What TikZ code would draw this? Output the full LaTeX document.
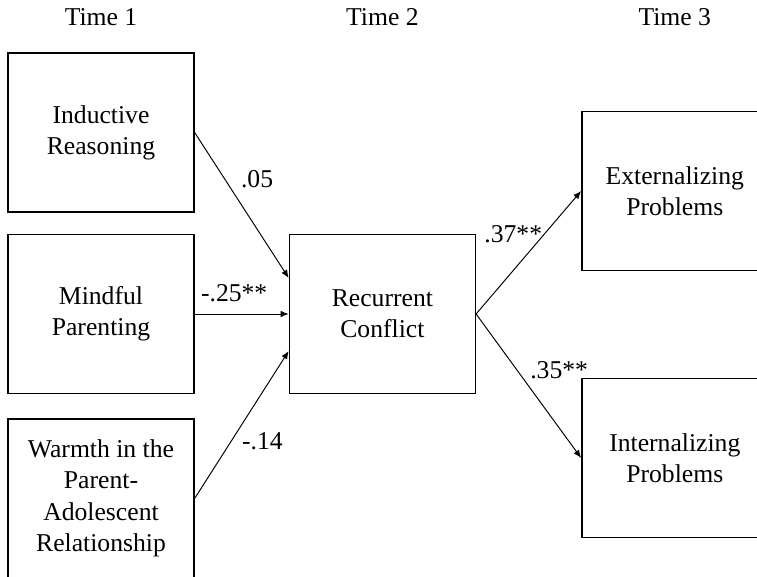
\documentclass[tikz,border=0pt]{standalone}
\usepackage{fontspec}
\setmainfont{Liberation Serif}
\usetikzlibrary{arrows.meta, positioning, calc}

\begin{document}
\begin{tikzpicture}[
    node distance=0.45cm and 1.88cm,
    var/.style={draw, rectangle, line width=0.8pt, minimum width=3.72cm, minimum height=3.18cm, align=center, inner sep=0pt, font=\fontsize{14.6}{17.8}\selectfont},
    timelabel/.style={anchor=base, font=\fontsize{14.6}{17.8}\selectfont},
    coef/.style={inner sep=1pt, font=\fontsize{14.6}{17.8}\selectfont},
    arr/.style={draw, -{Latex[length=1.6mm, width=1.3mm]}, line width=0.55pt}
]
    \useasboundingbox (0,0) rectangle (15.14,11.54);
    \clip (0,0) rectangle (15.14,11.54);

    \node[var] (mind) at (2.02,5.26) {Mindful\\Parenting};
    \node[var, above=0.42cm of mind] (ind) {Inductive\\Reasoning};
    \node[var, below=0.48cm of mind] (warm) {Warmth in the\\Parent-\\Adolescent\\Relationship};
    \node[var, right=1.88cm of mind] (rc) {Recurrent\\Conflict};
    \node[var, right=2.1cm of rc, yshift=2.46cm] (ext) {Externalizing\\Problems};
    \node[var, right=2.1cm of rc, yshift=-2.88cm] (int) {Internalizing\\Problems};

    % time points over the columns
    \node[timelabel] (t1) at ($(ind.north)+(0,0.54)$) {Time 1};
    \node[timelabel] (t2) at (rc.north |- t1.base) {Time 2};
    \node[timelabel] (t3) at (ext.north |- t1.base) {Time 3};

    \draw[arr] (ind.east) -- ($(rc.west)+(0,0.72)$) node[coef, pos=0.32, anchor=west, xshift=0.28cm] {.05};
    \draw[arr] (mind.east) -- (rc.west) node[coef, pos=0.42, anchor=south, yshift=0.2cm] {-.25**};
    \draw[arr] (warm.east) -- ($(rc.west)+(0,-0.74)$) node[coef, pos=0.39, anchor=west, xshift=0.17cm] {-.14};

    \draw[arr] (rc.east) -- (ext.west) node[coef, pos=0.65, anchor=east] {.37**};
    \draw[arr] (rc.east) -- (int.west) node[coef, pos=0.39, anchor=west, xshift=0.22cm] {.35**};
\end{tikzpicture}
\end{document}
